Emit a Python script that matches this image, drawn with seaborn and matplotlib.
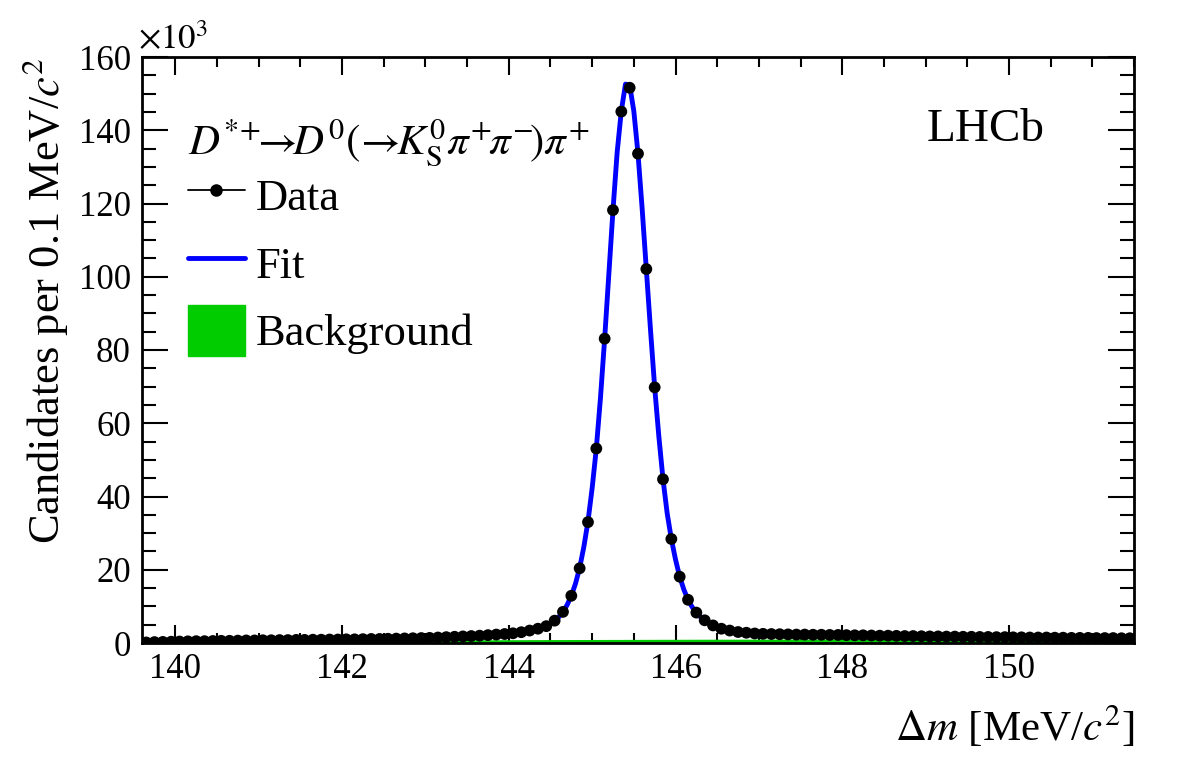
import numpy as np
import pandas as pd
import seaborn as sns
import matplotlib.pyplot as plt
from matplotlib.lines import Line2D
from matplotlib.patches import Patch
from matplotlib.ticker import MultipleLocator

# Delta m binning: 0.1 MeV bins from 139.6 to 151.5
bin_lo = 139.6
bin_width = 0.1
n_bins = 119

# candidates per bin, in units of 10^3
counts = [0.15, 0.25, 0.30, 0.35,
          0.40, 0.45, 0.50, 0.50, 0.55, 0.60, 0.60, 0.65, 0.70, 0.70,
          0.75, 0.75, 0.80, 0.80, 0.85, 0.85, 0.90, 0.90, 0.95, 0.95,
          1.00, 1.00, 1.05, 1.10, 1.10, 1.15, 1.20, 1.25, 1.30, 1.35,
          1.40, 1.50, 1.60, 1.70, 1.80, 1.90, 2.00, 2.15, 2.30, 2.45,
          2.65, 2.95, 3.40, 3.90, 4.60, 6.10, 8.50, 12.9, 20.4, 33.0,
          53.1, 83.1, 118.2, 145.1, 151.6, 133.6, 102.1, 69.8, 44.7, 28.4,
          18.1, 11.8, 8.3, 6.2, 4.8, 3.9, 3.4, 3.0, 2.8, 2.6,
          2.5, 2.45, 2.4, 2.35, 2.3, 2.3, 2.25, 2.25, 2.2, 2.2,
          2.15, 2.1, 2.1, 2.05, 2.0, 2.0, 1.95, 1.9, 1.9, 1.85,
          1.8, 1.8, 1.75, 1.75, 1.7, 1.7, 1.65, 1.65, 1.6, 1.6,
          1.55, 1.55, 1.5, 1.5, 1.5, 1.45, 1.45, 1.4, 1.4, 1.4,
          1.35, 1.35, 1.35, 1.3, 1.3]

# background component per bin (10^3)
background = [0.10, 0.18, 0.24, 0.29,
              0.33, 0.37, 0.40, 0.43, 0.46, 0.48, 0.50, 0.52, 0.54, 0.56,
              0.58, 0.60, 0.61, 0.63, 0.64, 0.66, 0.67, 0.68, 0.70, 0.71,
              0.72, 0.73, 0.74, 0.75, 0.76, 0.77, 0.78, 0.79, 0.80, 0.81,
              0.82, 0.83, 0.84, 0.85, 0.86, 0.86, 0.87, 0.88, 0.89, 0.90,
              0.90, 0.91, 0.92, 0.92, 0.93, 0.94, 0.94, 0.95, 0.96, 0.96,
              0.97, 0.97, 0.98, 0.98, 0.99, 0.99, 1.00, 1.00, 1.01, 1.01,
              1.02, 1.02, 1.03, 1.03, 1.04, 1.04, 1.04, 1.05, 1.05, 1.06,
              1.06, 1.06, 1.07, 1.07, 1.07, 1.08, 1.08, 1.08, 1.09, 1.09,
              1.09, 1.10, 1.10, 1.10, 1.10, 1.11, 1.11, 1.11, 1.12, 1.12,
              1.12, 1.12, 1.13, 1.13, 1.13, 1.13, 1.14, 1.14, 1.14, 1.14,
              1.15, 1.15, 1.15, 1.15, 1.15, 1.16, 1.16, 1.16, 1.16, 1.16,
              1.17, 1.17, 1.17, 1.17, 1.17]

# fit curve around the peak, read at 0.05 MeV steps from 144.60 to 146.45
fit_peak_lo = 144.60
fit_peak_step = 0.05
fit_peak = [7.1, 8.5, 10.4, 12.9, 16.2, 20.5, 26.2, 33.2,
            42.3, 53.1, 67.0, 83.1, 100.8, 118.2, 134.0, 145.3, 152.6, 152.3,
            145.2, 133.6, 118.5, 102.1, 85.5, 69.8, 56.4, 44.7, 35.4, 28.4,
            22.8, 18.1, 14.6, 11.8, 9.8, 8.3, 7.1, 6.2, 5.4, 4.8]

mass = np.round(bin_lo + bin_width * (np.arange(n_bins) + 0.5), 2)
df = pd.DataFrame({"mass": mass, "counts": counts, "bkg": background})

# fit line: data-level tails, finer reading across the peak
peak_mass = np.round(fit_peak_lo + fit_peak_step * np.arange(len(fit_peak)), 2)
left = df[df.mass < fit_peak_lo]
right = df[df.mass > peak_mass[-1]]
fit = pd.concat([
    pd.DataFrame({"mass": left.mass, "fit": left.counts}),
    pd.DataFrame({"mass": peak_mass, "fit": fit_peak}),
    pd.DataFrame({"mass": right.mass, "fit": right.counts}),
])

sns.set_theme(style="ticks")
plt.rcParams["font.family"] = ["Liberation Serif", "DejaVu Serif"]
plt.rcParams["mathtext.fontset"] = "stix"
for k in ["text.color", "axes.labelcolor", "xtick.color", "ytick.color",
          "xtick.labelcolor", "ytick.labelcolor"]:
    plt.rcParams[k] = "black"

fig = plt.figure(figsize=(11.82, 7.59), dpi=100)
ax = fig.add_axes([142 / 1182, 1 - 643 / 759, (1134 - 142) / 1182, (643 - 57) / 759])

green = "#00cc00"
ax.fill_between(df.mass, 0, df.bkg, color=green, lw=0, zorder=1)
sns.lineplot(data=fit, x="mass", y="fit", color="blue", lw=3.5, sort=False,
             estimator=None, ax=ax, zorder=2)
sns.scatterplot(data=df, x="mass", y="counts", color="black", s=72,
                edgecolor="none", ax=ax, zorder=3)

ax.set_xlim(139.6, 151.5)
ax.set_ylim(0, 160)
ax.xaxis.set_major_locator(MultipleLocator(2))
ax.xaxis.set_minor_locator(MultipleLocator(0.5))
ax.yaxis.set_major_locator(MultipleLocator(20))
ax.yaxis.set_minor_locator(MultipleLocator(5))
ax.tick_params(which="both", direction="in", top=True, right=True,
               labelsize=25, width=1.5, colors="black")
ax.tick_params(axis="x", which="major", length=13, pad=7)
ax.tick_params(axis="x", which="minor", length=7)
ax.tick_params(axis="y", which="major", length=19, pad=8)
ax.tick_params(axis="y", which="minor", length=10)
for s in ax.spines.values():
    s.set_linewidth(2)
    s.set_color("black")
ax.set_xlabel("")
ax.set_ylabel("")

fig.text(45 / 1182, 1 - 57 / 759, r"Candidates per 0.1 MeV/$c^2$", rotation=90,
         ha="center", va="top", fontsize=32)
fig.text(1134 / 1182, 1 - 727 / 759, r"$\Delta m$ [MeV/$c^2$]",
         ha="right", va="center", fontsize=31)
fig.text(138 / 1182, 1 - 40 / 759, r"$\times10^3$", ha="left", va="center", fontsize=25)

fig.text(188 / 1182, 1 - 142 / 759,
         r"$D^{*\!+}\!\!\!\rightarrow\!\!D^{0}(\!\rightarrow\!\!K^{0}_{\rm S}\pi^{+}\!\pi^{-}\!)\pi^{+}$",
         ha="left", va="center", fontsize=31)
fig.text(1045 / 1182, 1 - 130 / 759, "LHCb", ha="right", va="center", fontsize=34)

handles = [Line2D([], [], color="black", marker="o", markersize=8, lw=1.3),
           Line2D([], [], color="blue", lw=3.5),
           Patch(facecolor=green, edgecolor=green)]
ax.legend(handles, ["Data", "Fit", "Background"], loc="upper left",
          bbox_to_anchor=(188 / 1182, 1 - 170 / 759), bbox_transform=fig.transFigure,
          frameon=False, fontsize=32, handlelength=1.28, handleheight=1.4,
          handletextpad=0.25, labelspacing=0.36, borderpad=0, borderaxespad=0)

fig.savefig("out.png", dpi=100)
